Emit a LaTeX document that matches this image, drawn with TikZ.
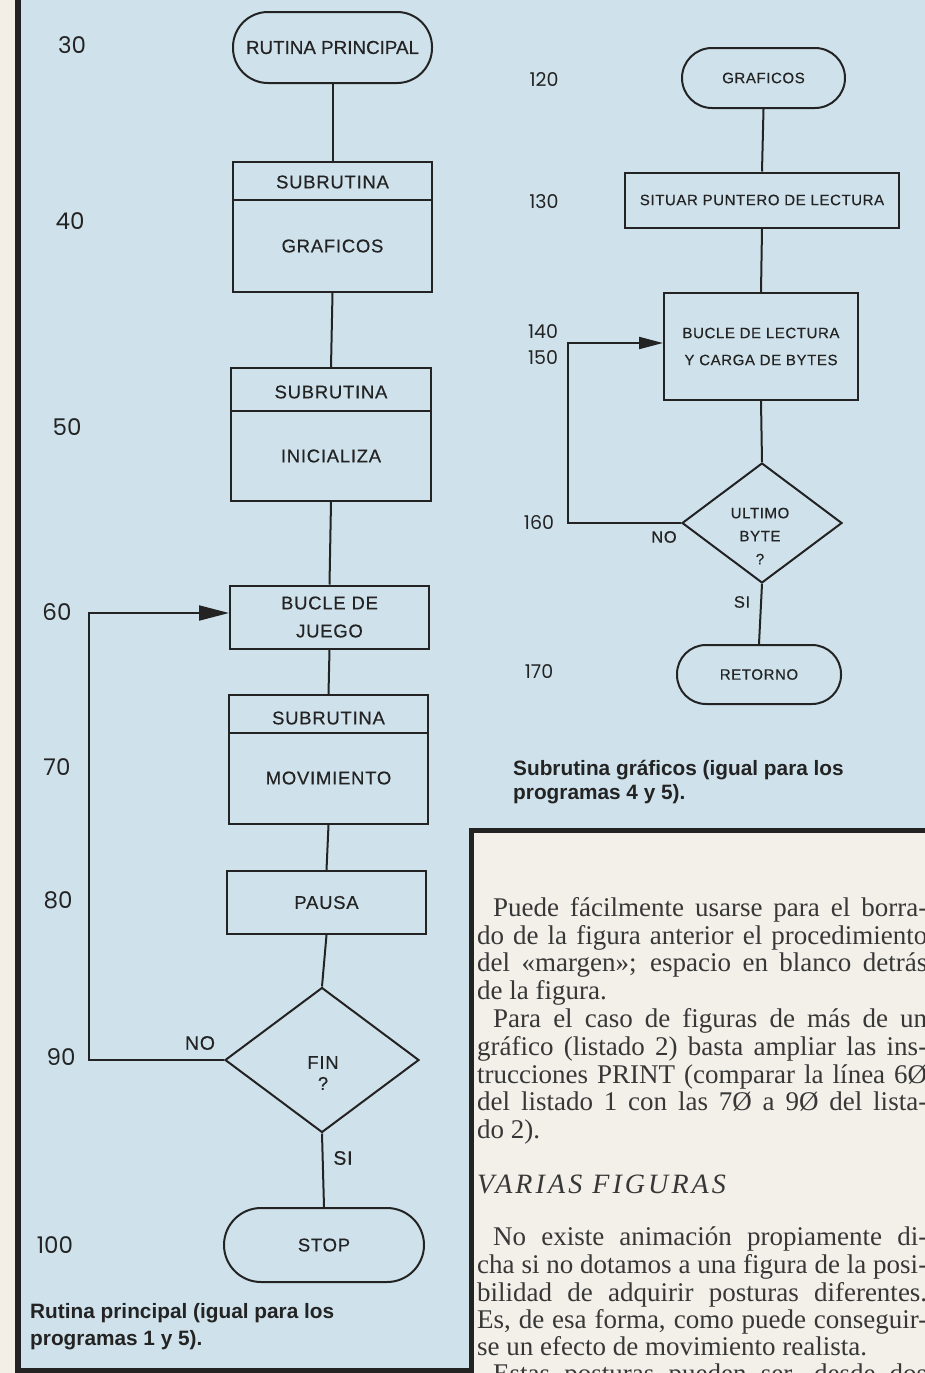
\documentclass[tikz,border=0pt]{standalone}
\usepackage{fontspec}
\setmainfont{Liberation Serif}
\newfontfamily\chartfont[LetterSpace=4,FakeBold=0.4]{Liberation Sans}
\newfontfamily\plainsans[FakeBold=0.4]{Liberation Sans}
\newfontfamily\capsans{Liberation Sans}
\newfontfamily\numfont{Poppins}
\newfontfamily\headfont[LetterSpace=11]{Liberation Serif}
\usetikzlibrary{shapes.geometric,arrows.meta}

\definecolor{bgblue}{RGB}{207,226,236}
\definecolor{paper}{RGB}{242,240,233}
\definecolor{strip}{RGB}{243,239,231}
\definecolor{ink}{RGB}{35,35,35}
\definecolor{bodyink}{RGB}{55,55,55}

\begin{document}
\begin{tikzpicture}[x=1pt,y=-1pt,
  conn/.style={draw=ink,line width=2pt},
  fbox/.style={draw=ink,line width=2pt,rectangle,inner sep=0pt,align=center},
  decision/.style={draw=ink,line width=2pt,diamond,inner sep=0pt},
  bigtxt/.style={font=\chartfont\fontsize{18.5}{22}\selectfont,text=ink,inner sep=0pt,align=center},
  smalltxt/.style={font=\chartfont\fontsize{15}{18}\selectfont,text=ink,inner sep=0pt,align=center},
  lnum/.style={font=\numfont\fontsize{23}{27}\selectfont,text=ink,inner sep=0pt},
  rnum/.style={font=\numfont\fontsize{19}{22}\selectfont,text=ink,inner sep=0pt},
  captxt/.style={font=\capsans\bfseries\fontsize{20.8}{27.5}\selectfont,text=ink,inner sep=0pt,align=left,anchor=north west},
  bodyline/.style={font=\fontsize{27}{28}\selectfont,text=bodyink,inner sep=0pt,anchor=base west},
  tipL/.style={-{Triangle[length=30pt,width=15pt]}},
  tipR/.style={-{Triangle[length=24pt,width=12pt]}}
]
\useasboundingbox (0,0) rectangle (925,1373);
\clip (0,0) rectangle (925,1373);

% backgrounds and frame lines
\fill[bgblue] (0,0) rectangle (925,1373);
\fill[strip] (0,0) rectangle (15,1373);
\draw[line width=6pt,ink] (18,-5) -- (18,1380);
\draw[line width=5pt,ink] (15,1370) -- (471,1370);
\fill[paper] (471,830) rectangle (935,1380);
\draw[line width=5pt,ink] (471,1380) -- (471,830) -- (935,830);

% ---------- main routine ----------
\node[fbox,rounded corners=35pt,minimum width=199pt,minimum height=71pt,
      font=\plainsans\fontsize{18.8}{22}\selectfont,text=ink] (rp) at (332.5,47.5) {RUTINA PRINCIPAL};

\node[fbox,minimum width=199pt,minimum height=130pt] (g40) at (332.5,227) {};
\draw[conn] (g40.west |- 0,200) -- (g40.east |- 0,200);
\node[bigtxt] (g40a) at (332.5,182) {SUBRUTINA};
\node[bigtxt] (g40b) at (332.5,246) {GRAFICOS};

\node[fbox,minimum width=200pt,minimum height=133pt] (i50) at (331,434.5) {};
\draw[conn] (i50.west |- 0,411) -- (i50.east |- 0,411);
\node[bigtxt] (i50a) at (331,392) {SUBRUTINA};
\node[bigtxt] (i50b) at (331,456) {INICIALIZA};

\node[fbox,minimum width=199pt,minimum height=63pt,
      font=\chartfont\fontsize{18.5}{28}\selectfont,text=ink] (bj) at (329.5,617) {BUCLE DE\\JUEGO};

\node[fbox,minimum width=199pt,minimum height=129pt] (mv) at (328.5,759.5) {};
\draw[conn] (mv.west |- 0,733) -- (mv.east |- 0,733);
\node[bigtxt] (mva) at (328.5,718) {SUBRUTINA};
\node[bigtxt] (mvb) at (328.5,778) {MOVIMIENTO};

\node[fbox,minimum width=199pt,minimum height=63pt,
      font=\chartfont\fontsize{18.5}{22}\selectfont,text=ink] (pa) at (326.5,902.5) {PAUSA};

\node[decision,minimum width=194pt,minimum height=145pt] (fin) at (322,1060) {};
\node[bigtxt,font=\chartfont\fontsize{18.5}{21}\selectfont] (fint) at (323,1073) {FIN\\?};

\node[fbox,rounded corners=37pt,minimum width=200pt,minimum height=74pt,
      font=\chartfont\fontsize{18.5}{22}\selectfont,text=ink] (stop) at (324,1245) {STOP};

\draw[conn] (rp.south) -- (g40.north);
\draw[conn] (g40.south) -- (i50.north);
\draw[conn] (i50.south) -- (bj.north);
\draw[conn] (bj.south) -- (mv.north);
\draw[conn] (mv.south) -- (pa.north);
\draw[conn] (pa.south) -- (fin.north);
\draw[conn] (fin.south) -- (stop.north);
\coordinate (loopL) at (89,613);
\draw[conn,tipL] (fin.west) -| (loopL) -- (loopL -| bj.west);

\node[bigtxt,font=\chartfont\fontsize{19.5}{22}\selectfont] (noL) at (200,1043) {NO};
\node[bigtxt,font=\chartfont\fontsize{19.5}{22}\selectfont] (siL) at (343,1158) {SI};

\node[lnum] (n30) at (72,45) {30};
\node[lnum] (n40) at (70,221) {40};
\node[lnum] (n50) at (67,427) {50};
\node[lnum] (n60) at (57,612) {60};
\node[lnum] (n70) at (57,767) {70};
\node[lnum] (n80) at (58,900) {80};
\node[lnum] (n90) at (61,1057) {90};
\node[lnum] (n100) at (55,1245) {100};

\node[captxt] (capL) at (30,1303) {Rutina principal (igual para los\\programas 1 y 5).};

% ---------- graphics subroutine ----------
\node[fbox,rounded corners=30pt,minimum width=163pt,minimum height=60pt,
      font=\chartfont\fontsize{15}{18}\selectfont,text=ink] (gr) at (763.5,78) {GRAFICOS};
\node[fbox,minimum width=274pt,minimum height=55pt,
      font=\chartfont\fontsize{15}{18}\selectfont,text=ink] (sit) at (762,200) {SITUAR PUNTERO DE LECTURA};
\node[fbox,minimum width=194pt,minimum height=107pt,
      font=\chartfont\fontsize{15}{27}\selectfont,text=ink] (bl) at (761,346.5) {BUCLE DE LECTURA\\Y CARGA DE BYTES};
\node[decision,minimum width=160pt,minimum height=120pt] (ult) at (762,523) {};
\node[smalltxt,font=\chartfont\fontsize{15}{23}\selectfont] (ultt) at (760,536) {ULTIMO\\BYTE\\?};
\node[fbox,rounded corners=29pt,minimum width=164pt,minimum height=59pt,
      font=\chartfont\fontsize{15}{18}\selectfont,text=ink] (ret) at (759,674.5) {RETORNO};

\draw[conn] (gr.south) -- (sit.north);
\draw[conn] (sit.south) -- (bl.north);
\draw[conn] (bl.south) -- (ult.north);
\draw[conn] (ult.south) -- (ret.north);
\coordinate (loopR) at (568,343);
\draw[conn,tipR] (ult.west) -| (loopR) -- (loopR -| bl.west);

\node[smalltxt,font=\chartfont\fontsize{16.5}{19}\selectfont] (noR) at (664,537) {NO};
\node[smalltxt,font=\chartfont\fontsize{16.5}{19}\selectfont] (siR) at (742,602) {SI};

\node[rnum] (n120) at (544,80) {120};
\node[rnum] (n130) at (544,202) {130};
\node[rnum] (n140) at (543,332) {140};
\node[rnum] (n150) at (543,358) {150};
\node[rnum] (n160) at (539,523) {160};
\node[rnum] (n170) at (539,672) {170};

\node[captxt,font=\capsans\bfseries\fontsize{20.8}{24}\selectfont] (capR) at (513,760) {Subrutina gráficos (igual para los\\programas 4 y 5).};

% ---------- text column ----------
\begin{scope}
\clip (473.5,832.5) rectangle (925,1373);
\node[bodyline] (t1) at (493,916) {\makebox[434pt][s]{Puede fácilmente usarse para el borra-}};
\node[bodyline] (t2) at (477,944) {\makebox[450pt][s]{do de la figura anterior el procedimiento}};
\node[bodyline] (t3) at (477,971) {\makebox[450pt][s]{del «margen»; espacio en blanco detrás}};
\node[bodyline] (t4) at (477,999) {de la figura.};
\node[bodyline] (t5) at (493,1027) {\makebox[434pt][s]{Para el caso de figuras de más de un}};
\node[bodyline] (t6) at (477,1055) {\makebox[450pt][s]{gráfico (listado 2) basta ampliar las ins-}};
\node[bodyline] (t7) at (477,1083) {\makebox[450pt][s]{trucciones PRINT (comparar la línea 6Ø}};
\node[bodyline] (t8) at (477,1110) {\makebox[450pt][s]{del listado 1 con las 7Ø a 9Ø del lista-}};
\node[bodyline] (t9) at (477,1138) {do 2).};
\node[bodyline,font=\headfont\itshape\fontsize{28}{30}\selectfont] (hd) at (477,1193) {VARIAS FIGURAS};
\node[bodyline] (u1) at (493,1245) {\makebox[434pt][s]{No existe animación propiamente di-}};
\node[bodyline] (u2) at (477,1273) {\makebox[450pt][s]{cha si no dotamos a una figura de la posi-}};
\node[bodyline] (u3) at (477,1301) {\makebox[450pt][s]{bilidad de adquirir posturas diferentes.}};
\node[bodyline] (u4) at (477,1328) {\makebox[450pt][s]{Es, de esa forma, como puede conseguir-}};
\node[bodyline] (u5) at (477,1355) {se un efecto de movimiento realista.};
\node[bodyline] (u6) at (493,1382) {\makebox[434pt][s]{Estas posturas pueden ser, desde dos}};
\end{scope}
\end{tikzpicture}
\end{document}
